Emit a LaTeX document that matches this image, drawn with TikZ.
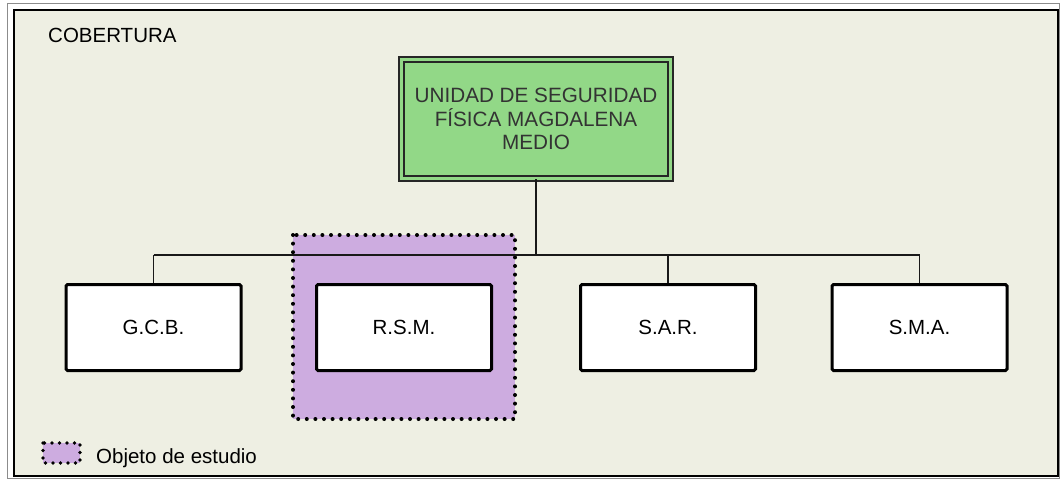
\documentclass[tikz,border=0pt]{standalone}
\usepackage{fontspec}
\setmainfont{Liberation Sans}
\definecolor{panel}{HTML}{EEEFE3}
\definecolor{greenfill}{HTML}{92D887}
\definecolor{purplefill}{HTML}{CDACE0}
\definecolor{darktext}{HTML}{333333}
\tikzset{
  conn/.style={draw=black!90, line width=1.6pt},
  unitbox/.style={draw=black, line width=3pt, rounded corners=1.5pt, fill=white,
    minimum width=175pt, minimum height=86pt, inner sep=0pt,
    font=\fontsize{20.5}{24}\selectfont},
  topbox/.style={draw=black!85, line width=1.8pt, fill=greenfill, double=greenfill, double distance=3pt,
    minimum width=269pt, minimum height=119pt, inner sep=0pt, align=center,
    text=darktext, font=\fontsize{20.7}{23.6}\selectfont},
  studyzone/.style={fill=purplefill, draw=black, line width=4pt, line cap=round,
    dash pattern=on 0pt off 8.6pt},
  plain/.style={inner sep=0pt, font=\fontsize{20.5}{24}\selectfont}
}
\begin{document}
\begin{tikzpicture}[x=1pt,y=-1pt]
\useasboundingbox (0,0) rectangle (1061,480);
\draw[draw=black!45, line width=0.8pt, fill=white] (7,3) rectangle (1059,478);
\draw[draw=black, line width=1.6pt, fill=panel] (14,10) rectangle (1058,476);
\node[plain, anchor=base west] (cob) at (48,42) {COBERTURA};
\draw[studyzone] (293,235) rectangle (515,419);
\node[topbox] (top) at (536,119) {UNIDAD DE SEGURIDAD\\FÍSICA MAGDALENA\\MEDIO};
\node[unitbox] (gcb) at (153.5,327.5) {G.C.B.};
\node[unitbox] (rsm) at (404,327.5) {R.S.M.};
\node[unitbox] (sar) at (668,327.5) {S.A.R.};
\node[unitbox] (sma) at (919.5,327.5) {S.M.A.};
\coordinate (busL) at (153.5,255);
\coordinate (busR) at (919.5,255);
\draw[conn] (busL) -- (busR);
\draw[conn] (top.south) -- (top.south |- busL);
\draw[conn] (busL) -- (gcb.north);
\draw[conn] (sar.north |- busL) -- (sar.north);
\draw[conn] (busR) -- (sma.north);
% legend
\draw[studyzone, line width=3.6pt, dash pattern=on 0pt off 7.5pt] (43,443) rectangle (80,463);
\node[plain, anchor=base west] (leg) at (96,463) {Objeto de estudio};
\end{tikzpicture}
\end{document}
